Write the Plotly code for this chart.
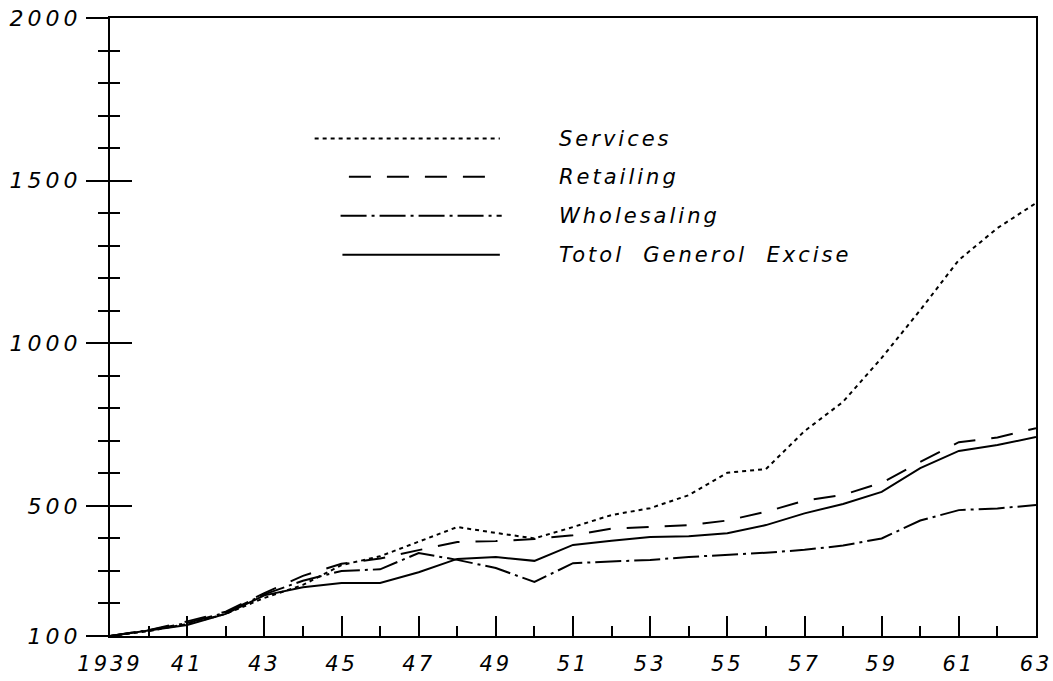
import plotly.graph_objects as go

# ---------------- data ----------------
years = list(range(1939, 1964))
services = [100, 115, 137, 168, 217, 257, 318, 345, 390, 435, 417, 400, 435,
            472, 493, 533, 602, 613, 730, 820, 955, 1102, 1256, 1354, 1431]
retailing = [100, 118, 145, 175, 232, 285, 322, 338, 364, 389, 392, 398, 410,
             430, 435, 441, 455, 482, 516, 534, 571, 635, 696, 710, 739]
wholesaling = [100, 118, 140, 172, 228, 270, 300, 305, 355, 334, 309, 266, 324,
               329, 334, 343, 349, 356, 365, 378, 400, 455, 487, 492, 503]
total = [100, 118, 134, 168, 225, 250, 263, 263, 296, 337, 343, 331, 380,
         393, 404, 407, 416, 441, 477, 506, 543, 616, 669, 687, 712]

series_names = ["Services", "Retailing", "Wholesaling",
                "Totol\u00a0\u00a0Generol\u00a0\u00a0Excise"]
series_values = [services, retailing, wholesaling, total]
series_dash = ["4px,4px", "22px,16px", "26px,5px,3px,5px", "solid"]

x_tick_vals = list(range(1939, 1964, 2))
x_tick_text = ["1939", "41", "43", "45", "47", "49", "51", "53", "55", "57",
               "59", "61", "63"]
x_minor_vals = list(range(1940, 1963, 2))
y_tick_vals = [100, 500, 1000, 1500, 2000]
y_tick_text = ["100", "500", "1000", "1500", "2000"]
y_minor_vals = [v for v in range(200, 2000, 100) if v not in y_tick_vals]

# legend sample geometry (paper coords)
legend_rows_y = [0.805, 0.743, 0.680, 0.617]
legend_line_x = [(0.221, 0.421), (0.258, 0.415), (0.249, 0.423), (0.251, 0.421)]
legend_text_x = 0.483

FONT = "DejaVu Sans"

fig = go.Figure()
for name, vals, dash in zip(series_names, series_values, series_dash):
    fig.add_trace(go.Scatter(
        x=years, y=vals, mode="lines", name=name, showlegend=False,
        line=dict(color="black", width=2, dash=dash)))

# empty trace so the overlaid axis (inner half of crossing ticks) is drawn
fig.add_trace(go.Scatter(x=[None], y=[None], yaxis="y2", showlegend=False,
                         hoverinfo="skip"))

shapes = []
annotations = []
for name, dash, ry, (x0, x1) in zip(series_names, series_dash, legend_rows_y,
                                    legend_line_x):
    shapes.append(dict(type="line", xref="paper", yref="paper", x0=x0, x1=x1,
                       y0=ry, y1=ry, line=dict(color="black", width=2, dash=dash)))
    annotations.append(dict(xref="paper", yref="paper", x=legend_text_x, y=ry,
                            xanchor="left", yanchor="middle", align="left",
                            text=name, showarrow=False,
                            font=dict(family=FONT, size=21, color="black",
                                      style="italic")))

x_tick_font = dict(family=FONT, size=21, color="black", style="italic")
y_tick_font = dict(family=FONT, size=22, color="black", style="italic")

fig.update_layout(
    width=1053, height=681,
    margin=dict(l=110, r=17, t=18, b=45, autoexpand=False),
    paper_bgcolor="white", plot_bgcolor="white",
    showlegend=False,
    shapes=shapes, annotations=annotations,
    xaxis=dict(range=[1939, 1963], tickmode="array", tickvals=x_tick_vals,
               ticktext=x_tick_text, ticks="inside", ticklen=20, tickwidth=2,
               tickcolor="black", showline=True, linewidth=2, linecolor="black",
               mirror=True, showgrid=False, zeroline=False, tickfont=x_tick_font,
               ticklabelstandoff=8, automargin=False,
               minor=dict(tickvals=x_minor_vals, ticks="inside", ticklen=10,
                          tickwidth=2, tickcolor="black", showgrid=False)),
    yaxis=dict(range=[100, 2000], tickmode="array", tickvals=y_tick_vals,
               ticktext=y_tick_text, ticks="outside", ticklen=22, tickwidth=2,
               tickcolor="black", showline=True, linewidth=2, linecolor="black",
               mirror=True, showgrid=False, zeroline=False, tickfont=y_tick_font,
               automargin=False,
               minor=dict(tickvals=y_minor_vals, ticks="outside", ticklen=10,
                          tickwidth=2, tickcolor="black", showgrid=False)),
    yaxis2=dict(range=[100, 2000], overlaying="y", side="left",
                tickmode="array", tickvals=y_tick_vals, showticklabels=False,
                ticks="inside", ticklen=22, tickwidth=2, tickcolor="black",
                showline=False, showgrid=False, zeroline=False,
                automargin=False,
                minor=dict(tickvals=y_minor_vals, ticks="inside", ticklen=10,
                           tickwidth=2, tickcolor="black", showgrid=False)),
)

post = """
document.body.style.margin = '0';
document.body.style.padding = '0';
document.body.style.overflow = 'hidden';
var s = document.createElement('style');
s.innerHTML = '.xtick text {letter-spacing: 3px;} .ytick text {letter-spacing: 4px;} .annotation-text {letter-spacing: 3px;}';
document.head.appendChild(s);
"""
fig.write_html("out.html", post_script=post,
               config={"displayModeBar": False, "staticPlot": True})
